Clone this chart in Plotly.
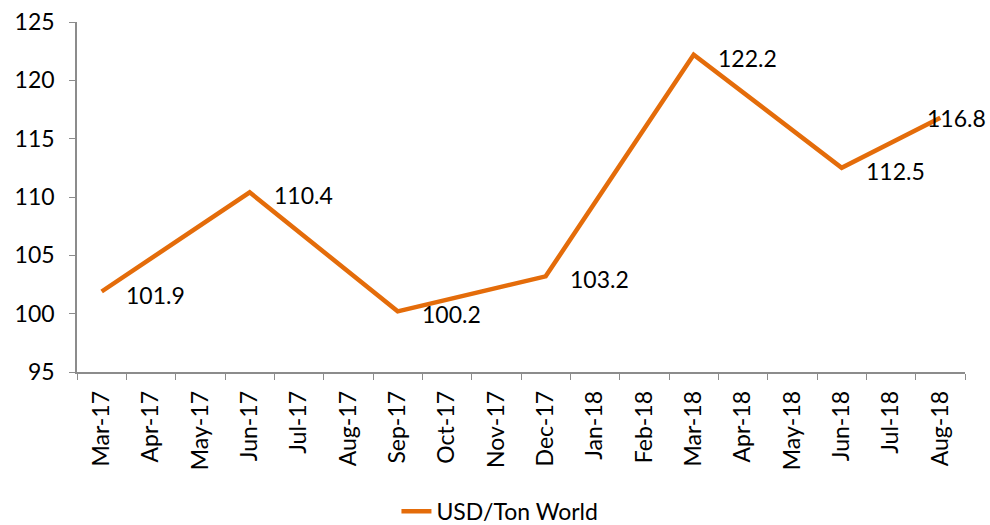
import plotly.graph_objects as go

months = ["Mar-17", "Apr-17", "May-17", "Jun-17", "Jul-17", "Aug-17", "Sep-17", "Oct-17",
          "Nov-17", "Dec-17", "Jan-18", "Feb-18", "Mar-18", "Apr-18", "May-18", "Jun-18",
          "Jul-18", "Aug-18"]
usd_per_ton = [101.9, None, None, 110.4, None, None, 100.2, None,
               None, 103.2, None, None, 122.2, None, None, 112.5,
               None, 116.8]
series_name = "USD/Ton World"

FONT = "Lato"
ORANGE = "#E46C0A"
AXIS = "#8c8c8c"

fig = go.Figure()
fig.add_trace(go.Scatter(
    x=months, y=usd_per_ton, mode="lines", name=series_name,
    connectgaps=True,
    line=dict(color=ORANGE, width=4.5),
))

# data labels (right of each point, Excel style)
for i, (m, v) in enumerate(zip(months, usd_per_ton)):
    if v is None:
        continue
    last = i == len(months) - 1
    fig.add_annotation(
        x=m, y=v, text=f"{v:.1f}", showarrow=False,
        xanchor="right" if last else "left", yanchor="middle",
        xshift=48 if last else 22, yshift=0 if last else -3,
        font=dict(family=FONT, size=23, color="#000000"),
    )

fig.update_layout(
    width=990, height=525,
    margin=dict(l=77, r=25, t=22, b=153, autoexpand=False),
    paper_bgcolor="white", plot_bgcolor="white",
    showlegend=True,
    legend=dict(orientation="h", xref="container", x=0.505, xanchor="center",
                y=-0.398, yanchor="middle",
                font=dict(family=FONT, size=23, color="#000000")),
    font=dict(family=FONT, size=23, color="#000000"),
)
fig.update_xaxes(
    type="category", categoryorder="array", categoryarray=months,
    tickangle=-90, tickson="boundaries", ticks="outside", ticklen=6,
    tickcolor=AXIS, showline=True, linecolor=AXIS, linewidth=1.5,
    showgrid=False, zeroline=False, automargin=False, ticklabelstandoff=8,
    tickfont=dict(family=FONT, size=23, color="#000000"),
    range=[-0.5, len(months) - 0.5],
)
fig.update_yaxes(
    range=[95, 125], dtick=5, ticks="outside", ticklen=6, tickcolor=AXIS,
    showline=True, linecolor=AXIS, linewidth=1.5, showgrid=False, zeroline=False,
    automargin=False, ticklabelstandoff=10,
    tickfont=dict(family=FONT, size=23, color="#000000"),
)

fig.write_html("out.html", config={"displayModeBar": False},
               post_script="document.body.style.margin='0';document.body.style.overflow='hidden';")
